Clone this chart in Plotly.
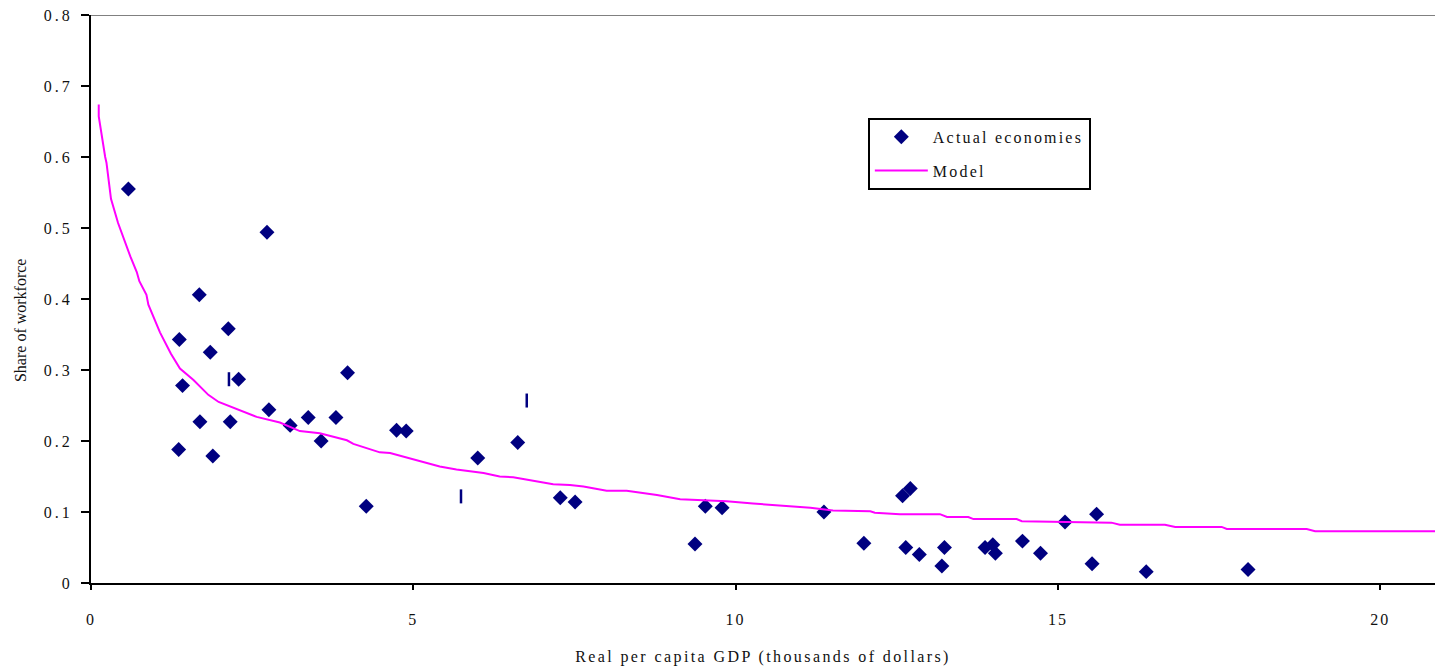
import plotly.graph_objects as go

# Actual economies (real per capita GDP, thousands of dollars; share of workforce)
actual_gdp = [0.58, 2.73, 1.68, 2.13, 1.37, 1.85, 3.98, 2.29, 1.42, 2.76,
              1.69, 2.16, 3.09, 3.37, 3.80, 3.57, 1.36, 1.89, 4.74, 4.89,
              6.00, 6.62, 4.27, 7.28, 7.51, 9.37, 9.53, 9.79, 11.37, 11.99,
              12.59, 12.71, 12.64, 12.85, 13.24, 13.20, 13.87, 13.99, 14.03, 14.45,
              14.73, 15.11, 15.60, 15.53, 16.37, 17.95]
actual_share = [0.555, 0.494, 0.406, 0.358, 0.343, 0.325, 0.296, 0.287, 0.278, 0.244,
                0.227, 0.227, 0.222, 0.233, 0.233, 0.200, 0.188, 0.179, 0.215, 0.214,
                0.176, 0.198, 0.108, 0.120, 0.114, 0.055, 0.108, 0.106, 0.100, 0.056,
                0.123, 0.133, 0.050, 0.040, 0.050, 0.024, 0.050, 0.054, 0.042, 0.059,
                0.042, 0.086, 0.097, 0.027, 0.016, 0.019]

# Small vertical tick marks in the plot
mark_gdp = [2.14, 6.76, 5.74]
mark_share = [0.287, 0.257, 0.122]

# Model curve
model_gdp = [0.12, 0.12, 0.22, 0.24, 0.31, 0.42, 0.61, 0.71, 0.75, 0.86,
             0.89, 1.07, 1.24, 1.38, 1.59, 1.82, 1.98, 2.21, 2.57, 2.93,
             3.24, 3.55, 3.97, 4.07, 4.48, 4.64, 5.41, 5.67, 6.09, 6.34,
             6.55, 7.17, 7.43, 7.64, 8.00, 8.31, 8.78, 9.14, 9.86, 10.27,
             10.43, 11.16, 11.51, 12.09, 12.16, 12.55, 13.17, 13.28, 13.61, 13.69,
             14.36, 14.44, 15.83, 15.96, 16.66, 16.82, 17.54, 17.62, 18.86, 18.99,
             22.0]
model_share = [0.674, 0.657, 0.600, 0.592, 0.541, 0.507, 0.460, 0.438, 0.425, 0.406,
               0.392, 0.353, 0.323, 0.302, 0.286, 0.265, 0.255, 0.247, 0.234, 0.226,
               0.214, 0.211, 0.201, 0.196, 0.184, 0.183, 0.164, 0.160, 0.155, 0.150,
               0.149, 0.139, 0.138, 0.136, 0.130, 0.130, 0.124, 0.118, 0.115, 0.112,
               0.111, 0.106, 0.102, 0.101, 0.099, 0.097, 0.097, 0.093, 0.093, 0.090,
               0.090, 0.087, 0.085, 0.082, 0.082, 0.079, 0.079, 0.076, 0.076, 0.073,
               0.073]

x_ticks = [0, 5, 10, 15, 20]
y_ticks = [0, 0.1, 0.2, 0.3, 0.4, 0.5, 0.6, 0.7, 0.8]

NAVY = "#000080"
MAGENTA = "#FF00FF"
SERIF = "Liberation Serif, Times New Roman, serif"
TXT = "#111111"

fig = go.Figure()
fig.add_trace(go.Scatter(
    x=actual_gdp, y=actual_share, mode="markers", name="Actual economies",
    marker=dict(symbol="diamond", size=11.5, color=NAVY, line=dict(width=0)),
    legendgroup="a",
))
fig.add_trace(go.Scatter(
    x=model_gdp, y=model_share, mode="lines", name="Model",
    line=dict(color=MAGENTA, width=2), legendgroup="b",
))
fig.add_trace(go.Scatter(
    x=mark_gdp, y=mark_share, mode="markers", showlegend=False,
    marker=dict(symbol="line-ns", size=10, color=NAVY, line=dict(width=2.5, color=NAVY)),
))

fig.update_layout(
    width=1435, height=670,
    margin=dict(l=91, r=0, t=15, b=87, pad=0),
    paper_bgcolor="white", plot_bgcolor="white",
    font=dict(family=SERIF, size=16, color=TXT),
    showlegend=True,
    legend=dict(
        x=0.578, y=0.819, xanchor="left", yanchor="top",
        bgcolor="white", bordercolor="black", borderwidth=2,
        font=dict(family=SERIF, size=16, color=TXT),
        tracegroupgap=10, traceorder="grouped", itemwidth=53,
    ),
    xaxis=dict(
        range=[0, 20.85], tickvals=x_ticks, ticktext=[str(v) for v in x_ticks],
        showgrid=False, zeroline=False, showline=True, linecolor="black", linewidth=2,
        ticks="outside", ticklen=5, tickwidth=2, tickcolor="black",
        ticklabelstandoff=16, tickfont=dict(family=SERIF, size=16, color=TXT),
        title=dict(text="Real per capita GDP (thousands of dollars)", standoff=24,
                   font=dict(family=SERIF, size=16, color=TXT)),
    ),
    yaxis=dict(
        range=[0, 0.8], tickvals=y_ticks, ticktext=["0"] + [f"{v:.1f}" for v in y_ticks[1:]],
        showgrid=False, zeroline=False, showline=True, linecolor="black", linewidth=2,
        ticks="outside", ticklen=8, tickwidth=2, tickcolor="black",
        ticklabelstandoff=5, tickfont=dict(family=SERIF, size=16, color=TXT),
    ),
    shapes=[dict(type="line", xref="paper", x0=0, x1=1, yref="y", y0=0.8, y1=0.8,
                 line=dict(color="#808080", width=2))],
    annotations=[dict(text="Share of workforce", xref="paper", yref="paper",
                      x=-0.0528, y=0.463, xanchor="center", yanchor="middle",
                      textangle=-90, showarrow=False,
                      font=dict(family=SERIF, size=16, color=TXT))],
)

post = """
var s=document.createElement('style');
s.textContent='.xtick text{letter-spacing:2px}.ytick text{letter-spacing:3px}.xtitle{letter-spacing:2.4px}.legendtext{letter-spacing:2.2px}';
document.head.appendChild(s);
var gd=document.getElementById('{plot_id}');
Plotly.relayout(gd, {'legend.font.size':16.001,'xaxis.tickfont.size':16.001,'yaxis.tickfont.size':16.001,'xaxis.title.font.size':16.001});
"""

fig.write_html("out.html", post_script=post)
